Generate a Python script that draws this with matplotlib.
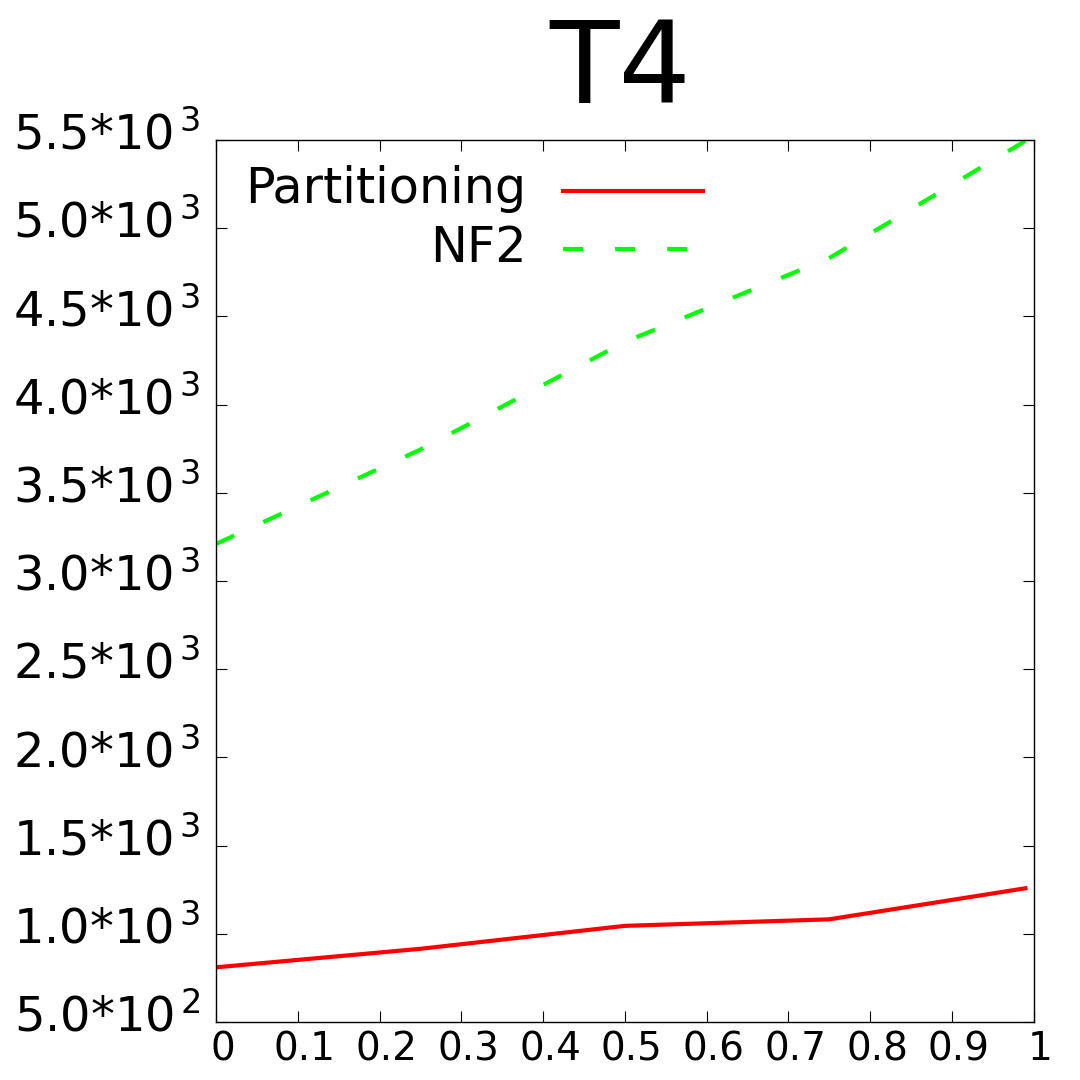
import numpy as np
import matplotlib.pyplot as plt
import matplotlib.transforms as mtransforms
from matplotlib.lines import Line2D

# data
x = [0, 0.25, 0.5, 0.75, 0.99]
partitioning = [810, 915, 1045, 1082, 1258]
nf2 = [3210, 3745, 4355, 4830, 5495]

yticks = [500, 1000, 1500, 2000, 2500, 3000, 3500, 4000, 4500, 5000, 5500]
ytick_labels = [r'5.0*10$^{\,2}$', r'1.0*10$^{\,3}$', r'1.5*10$^{\,3}$',
                r'2.0*10$^{\,3}$', r'2.5*10$^{\,3}$', r'3.0*10$^{\,3}$',
                r'3.5*10$^{\,3}$', r'4.0*10$^{\,3}$', r'4.5*10$^{\,3}$',
                r'5.0*10$^{\,3}$', r'5.5*10$^{\,3}$']
xticks = [0, 0.1, 0.2, 0.3, 0.4, 0.5, 0.6, 0.7, 0.8, 0.9, 1]
xtick_labels = ['0', '0.1', '0.2', '0.3', '0.4', '0.5', '0.6', '0.7', '0.8', '0.9', '1']

plt.rcParams['font.family'] = ['DejaVu Sans']
plt.rcParams['mathtext.fontset'] = 'dejavusans'

fig = plt.figure(figsize=(10.8, 10.8), dpi=100)
ax = fig.add_axes([0.2, 0.0537, 0.757, 0.8167])

lw = 3.0
dash = (4.8, 7.7)
ax.plot(x, partitioning, color='#ff0000', lw=lw)
ax.plot(x, nf2, color='#00ff00', lw=lw, dashes=dash)

ax.set_xlim(0, 1)
ax.set_ylim(500, 5500)
ax.set_xticks(xticks)
ax.set_xticklabels(xtick_labels)
ax.set_yticks(yticks)
ax.set_yticklabels(ytick_labels)
ax.tick_params(direction='in', length=8, width=0.8, top=True, right=True)
ax.tick_params(axis='x', pad=6, labelsize=28)
ax.tick_params(axis='y', pad=11, labelsize=34.5)
for s in ax.spines.values():
    s.set_linewidth(1.0)

# gnuplot puts the x labels a few pixels right of the tick,
# and the y labels a bit above it
xshift = mtransforms.ScaledTranslation(7 / 100, 0, fig.dpi_scale_trans)
for lab in ax.get_xticklabels():
    lab.set_transform(lab.get_transform() + xshift)
yshift = mtransforms.ScaledTranslation(0, 9 / 100, fig.dpi_scale_trans)
for lab in ax.get_yticklabels():
    lab.set_transform(lab.get_transform() + yshift)

# key, gnuplot style: right aligned labels followed by line samples
ax.text(0.380, 0.9286, 'Partitioning', transform=ax.transAxes, ha='right',
        va='baseline', fontsize=35.5)
ax.text(0.380, 0.8617, 'NF2', transform=ax.transAxes, ha='right',
        va='baseline', fontsize=35.5)
ax.add_line(Line2D([0.4242, 0.5954], [0.9422, 0.9422], transform=ax.transAxes,
                   color='#ff0000', lw=lw))
ax.add_line(Line2D([0.4242, 0.5954], [0.8764, 0.8764], transform=ax.transAxes,
                   color='#00ff00', lw=lw, dashes=dash))

fig.text(0.574, 0.9046, 'T4', ha='center', va='baseline', fontsize=82)

fig.savefig('out.png', dpi=100)
